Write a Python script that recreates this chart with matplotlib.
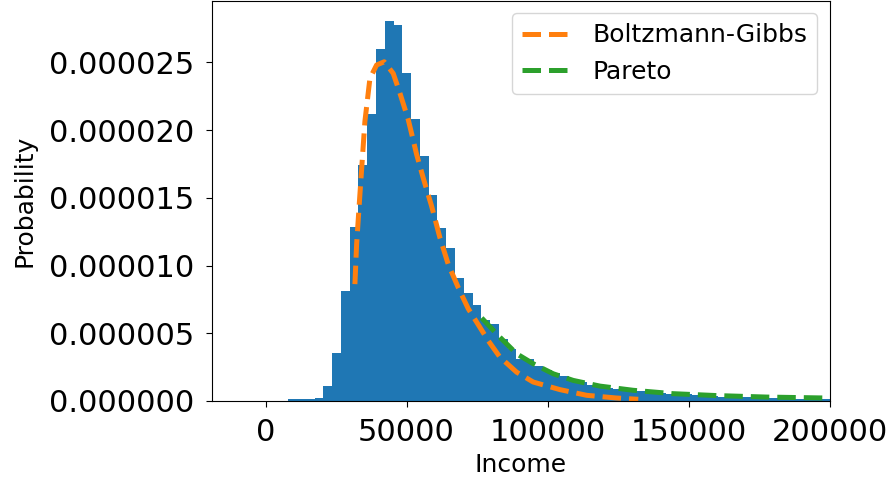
import numpy as np
import matplotlib
matplotlib.use('Agg')
import matplotlib.pyplot as plt
from matplotlib.ticker import FormatStrFormatter, MultipleLocator

# histogram of incomes (density), bins
bin_start = 8014
bin_width = 3113
hist_heights = [
    1.3e-7, 1.3e-7, 1.3e-7, 2.5e-7, 1.08e-6, 3.56e-6, 8.09e-6, 1.287e-5,
    1.746e-5, 2.12e-5, 2.60e-5, 2.805e-5, 2.78e-5, 2.42e-5, 2.08e-5, 1.81e-5,
    1.52e-5, 1.275e-5, 1.13e-5, 9.07e-6, 7.99e-6, 7.06e-6, 5.96e-6, 5.7e-6,
    4.6e-6, 3.82e-6, 3.12e-6, 3.1e-6, 2.62e-6, 2.28e-6, 2.1e-6, 1.84e-6,
    1.54e-6, 1.4e-6, 1.18e-6, 1.03e-6, 9.6e-7, 8.8e-7, 8.1e-7, 7.4e-7,
    7.4e-7, 7.0e-7, 6.2e-7, 5.5e-7, 5.1e-7, 4.8e-7, 4.4e-7, 4.0e-7,
    3.7e-7, 3.3e-7, 3.2e-7, 2.9e-7, 2.8e-7, 2.6e-7, 2.4e-7, 2.2e-7,
    2.1e-7, 1.8e-7, 1.7e-7, 1.5e-7, 1.5e-7, 1.3e-7,
]

# Boltzmann-Gibbs fit
bg_income = [31670, 32270, 33440, 35210, 36990, 39360, 42060, 45250, 47620,
             50570, 53550, 55890, 58860, 61810, 64750, 68300, 71840, 75990,
             78930, 83080, 89000, 94890, 104360, 113830, 124460, 132130]
bg_prob = [8.63e-6, 1.157e-5, 1.525e-5, 2.064e-5, 2.382e-5, 2.481e-5, 2.505e-5,
           2.419e-5, 2.274e-5, 2.079e-5, 1.821e-5, 1.647e-5, 1.439e-5, 1.206e-5,
           1.010e-5, 8.38e-6, 6.82e-6, 5.44e-6, 4.46e-6, 3.24e-6, 2.13e-6,
           1.40e-6, 8.4e-7, 4.2e-7, 2.2e-7, 1.25e-7]

# Pareto tail fit
pareto_income = [76600, 83080, 89000, 94890, 101980, 109070, 118540, 130350,
                 144540, 159920, 177650, 198930, 215000]
pareto_prob = [6.13e-6, 4.71e-6, 3.49e-6, 2.75e-6, 2.01e-6, 1.52e-6, 1.10e-6,
               7.9e-7, 5.4e-7, 4.0e-7, 2.9e-7, 2.2e-7, 1.8e-7]

edges = bin_start + bin_width * np.arange(len(hist_heights) + 1)
centers = 0.5 * (edges[:-1] + edges[1:])

fig = plt.figure(figsize=(8.93, 4.84), dpi=100)
ax = fig.add_axes([0.2374, 0.1715, 0.6917, 0.8265])

ax.hist(centers, bins=edges, weights=hist_heights, color='C0')
ax.plot(bg_income, bg_prob, '--', color='C1', lw=3.6, label='Boltzmann-Gibbs')
ax.plot(pareto_income, pareto_prob, '--', color='C2', lw=3.6, label='Pareto')

ax.set_xlim(-19000, 200000)
ax.set_ylim(0, 2.954e-5)
ax.yaxis.set_major_locator(MultipleLocator(5e-6))
ax.yaxis.set_major_formatter(FormatStrFormatter('%.6f'))
ax.xaxis.set_major_locator(MultipleLocator(50000))
ax.tick_params(labelsize=22, length=4.5, pad=8)

ax.set_xlabel('Income', fontsize=18)
ax.set_ylabel('Probability', fontsize=18, labelpad=9)
ax.legend(loc='upper right', fontsize=18)

fig.savefig('out.png', dpi=100)
